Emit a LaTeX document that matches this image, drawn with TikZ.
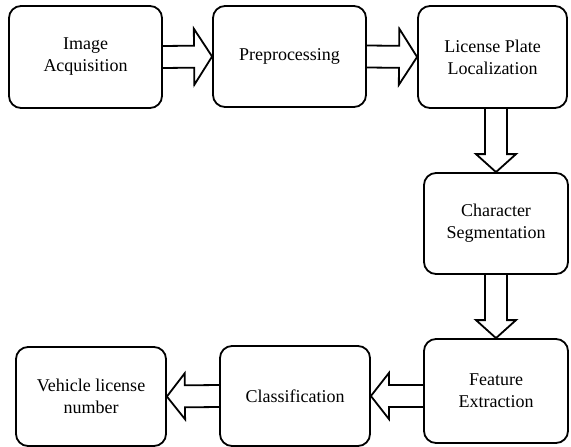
\documentclass[tikz,border=0pt]{standalone}
\usepackage{fontspec}
\setmainfont{Liberation Serif}
\usetikzlibrary{positioning, calc}

% hollow block arrow from #2 to #3 (open at the back), #1 = half head width
\newcommand{\fatarrow}[3][24pt]{%
  \coordinate (hb) at ($(#3)!18pt!(#2)$);
  \draw[fatline] ($(#2)!11pt!90:(#3)$) -- ($(hb)!11pt!-90:(#2)$)
    -- ($(hb)!#1!-90:(#2)$) -- (#3) -- ($(hb)!#1!90:(#2)$)
    -- ($(hb)!11pt!90:(#2)$) -- ($(#2)!11pt!-90:(#3)$);
}

\begin{document}
\begin{tikzpicture}[
    x=1pt, y=-1pt,
    stagebox/.style={rectangle, draw, line width=1.8pt, rounded corners=12pt,
                     align=center, inner sep=0pt,
                     font=\fontsize{18}{22}\selectfont},
    fatline/.style={draw, line width=1.8pt, line join=miter},
  ]
    \useasboundingbox (0,0) rectangle (571,447);

    \node[stagebox, minimum width=153pt, minimum height=102pt] (IA) at (85.5,57) {Image\\Acquisition};
    \node[stagebox, minimum width=153pt, minimum height=101pt] (PP) at (289.5,56.5) {Preprocessing};
    \node[stagebox, minimum width=149pt, minimum height=102pt] (LPL) at (492.5,57) {License Plate\\Localization};
    \node[stagebox, minimum width=144pt, minimum height=101pt] (CS) at (496,223.5) {Character\\Segmentation};
    \node[stagebox, minimum width=144pt, minimum height=104pt] (FE) at (496,391) {Feature\\Extraction};
    \node[stagebox, minimum width=150pt, minimum height=100pt] (CL) at (295,396) {Classification};
    \node[stagebox, minimum width=150pt, minimum height=99pt] (VLN) at (91,396.5) {Vehicle license\\number};

    \coordinate (LPLout) at (CS.north |- LPL.south);
    \coordinate (FEout) at (FE.west |- CL.east);

    \fatarrow[28pt]{IA.east}{PP.west}
    \fatarrow[28pt]{PP.east}{LPL.west}
    \fatarrow[20pt]{LPLout}{CS.north}
    \fatarrow[20pt]{CS.south}{FE.north}
    \fatarrow[23pt]{FEout}{CL.east}
    \fatarrow[23pt]{CL.west}{VLN.east}
\end{tikzpicture}
\end{document}
